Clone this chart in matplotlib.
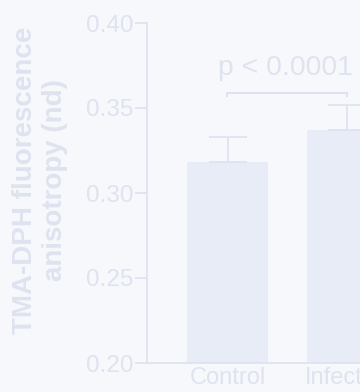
import matplotlib
matplotlib.use('Agg')
import matplotlib.pyplot as plt
import numpy as np

groups = ['Control', 'Infected']
means = [0.318, 0.337]
errs = [0.015, 0.015]
yticks = [0.20, 0.25, 0.30, 0.35, 0.40]
ylabel = 'TMA-DPH fluorescence\nanisotropy (nd)'
ptext = 'p < 0.0001'

bg = '#f7f8fc'
fg = '#dfe3f0'
barcol = '#e8ecf6'

plt.rcParams['font.family'] = ['Liberation Sans', 'DejaVu Sans']

fig = plt.figure(figsize=(3.6, 3.92), dpi=100, facecolor=bg)
ax = fig.add_axes([147/360, 29/392, 281/360, 340/392])
ax.set_facecolor(bg)

x = np.arange(len(groups))
ax.bar(x, means, width=0.68, color=barcol, zorder=2)
ax.errorbar(x, means, yerr=[np.zeros(len(errs)), errs], fmt='none',
            ecolor=fg, elinewidth=1.3, capsize=14, capthick=1.3, zorder=3)

ax.set_xlim(-0.68, 1.68)
ax.set_ylim(0.20, 0.40)
ax.set_yticks(yticks)
ax.set_yticklabels(['%.2f' % t for t in yticks])
ax.set_xticks(x)
ax.set_xticklabels(groups)

for s in ['top', 'right']:
    ax.spines[s].set_visible(False)
for s in ['left', 'bottom']:
    ax.spines[s].set_color(fg)
    ax.spines[s].set_linewidth(1.3)
ax.tick_params(axis='y', colors=fg, labelsize=17.5, length=9, width=1.3, pad=1)
ax.tick_params(axis='x', colors=fg, labelsize=17, length=0, pad=3)

# significance bracket
by = 0.359
ax.plot([-0.01, -0.01, 1.0, 1.0], [by - 0.002, by, by, by - 0.002],
        color=fg, lw=1.5, clip_on=False)
ax.text(0.48, by + 0.007, ptext, color=fg, fontsize=20.4, ha='center', va='bottom')

fig.text(40/360, 1 - 180/392, ylabel, rotation=90, color=fg, fontsize=20,
         fontweight='bold', ha='center', va='center', linespacing=1.2,
         multialignment='center')

fig.savefig('out.png', dpi=100, facecolor=bg)
